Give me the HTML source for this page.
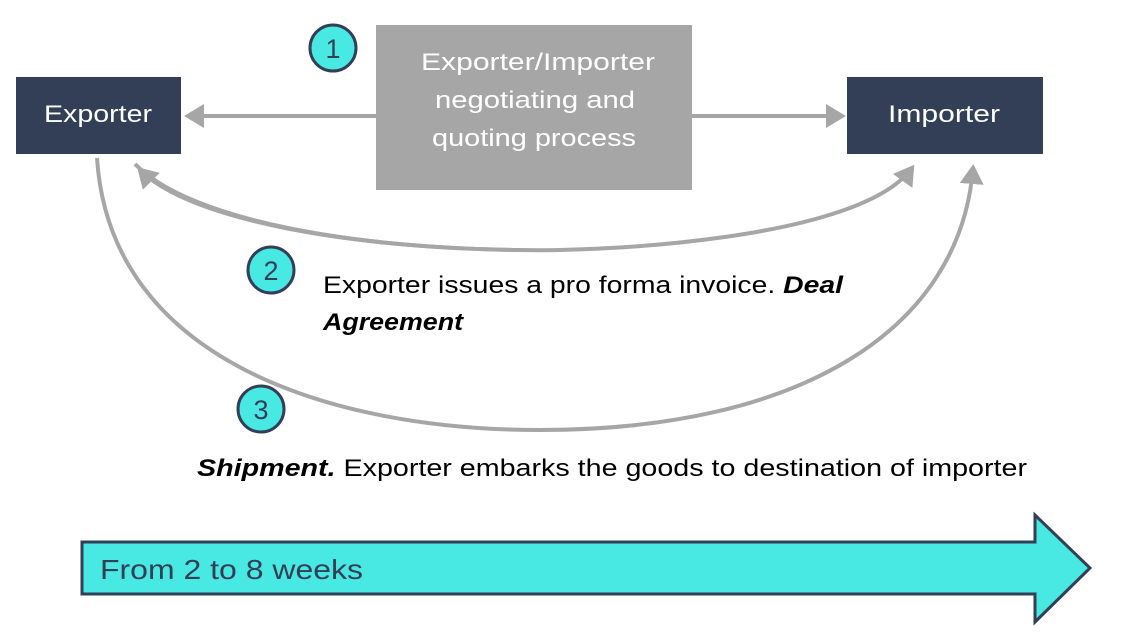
<!DOCTYPE html>
<html><head><meta charset="utf-8"><style>
html,body{margin:0;padding:0;background:#fff;}
svg{display:block;}
text{font-family:"Liberation Sans",sans-serif;}
</style></head><body>
<svg width="1128" height="638" viewBox="0 0 1128 638" xmlns="http://www.w3.org/2000/svg">
<defs>
<marker id="ah" markerWidth="6" markerHeight="6" refX="4" refY="3" orient="auto" markerUnits="strokeWidth">
<path d="M0,0 L5,3 L0,6 z" fill="#a6a6a6"/>
</marker>
</defs>
<rect x="16" y="77" width="165" height="77" fill="#323f56"/>
<text x="44" y="122" fill="#fff" font-size="24" textLength="108" lengthAdjust="spacingAndGlyphs">Exporter</text>
<rect x="847" y="77" width="196" height="77" fill="#323f56"/>
<text x="888" y="122" fill="#fff" font-size="24" textLength="112" lengthAdjust="spacingAndGlyphs">Importer</text>
<rect x="376" y="25" width="316" height="165" fill="#a6a6a6"/>
<text fill="#fff" font-size="24">
<tspan x="421" y="70" textLength="234" lengthAdjust="spacingAndGlyphs">Exporter/Importer</tspan>
<tspan x="435" y="108" textLength="200" lengthAdjust="spacingAndGlyphs">negotiating and</tspan>
<tspan x="432" y="146" textLength="204" lengthAdjust="spacingAndGlyphs">quoting process</tspan>
</text>
<line x1="376" y1="116" x2="188" y2="116" stroke="#a6a6a6" stroke-width="4" marker-end="url(#ah)"/>
<line x1="692" y1="116" x2="842" y2="116" stroke="#a6a6a6" stroke-width="4" marker-end="url(#ah)"/>
<path d="M135,164 C190,220 350,248 520,250 C600,252 860,240 912,168" fill="none" stroke="#a6a6a6" stroke-width="4" marker-end="url(#ah)"/>
<path d="M912,168 C790,240 200,260 140,170" fill="none" stroke="none"/>
<path d="M520,250 C350,248 190,220 140,170" fill="none" stroke="#a6a6a6" stroke-width="4" marker-end="url(#ah)"/>
<path d="M97,158 C110,360 330,430 540,430 C800,430 960,330 973,168" fill="none" stroke="#a6a6a6" stroke-width="4" marker-end="url(#ah)"/>
<g stroke="#323f56" stroke-width="3" fill="#48e8e3">
<circle cx="333" cy="48" r="23"/>
<circle cx="271" cy="270" r="23"/>
<circle cx="261" cy="409" r="23"/>
</g>
<g fill="#323f56" font-size="27" text-anchor="middle">
<text x="333" y="58">1</text>
<text x="271" y="280">2</text>
<text x="261" y="419">3</text>
</g>
<text x="323" y="293" font-size="24" fill="#000" textLength="520" lengthAdjust="spacingAndGlyphs">Exporter issues a pro forma invoice. <tspan font-weight="bold" font-style="italic">Deal</tspan></text>
<text x="323" y="330" font-size="24" fill="#000" font-weight="bold" font-style="italic" textLength="140" lengthAdjust="spacingAndGlyphs">Agreement</text>
<text x="197" y="476" font-size="24" fill="#000" textLength="830" lengthAdjust="spacingAndGlyphs"><tspan font-weight="bold" font-style="italic">Shipment.</tspan> Exporter embarks the goods to destination of importer</text>
<polygon points="82,542 1035,542 1035,515 1090,568 1035,622 1035,594 82,594" fill="#48e8e3" stroke="#323f56" stroke-width="3"/>
<text x="100" y="579" font-size="28" fill="#323f56" textLength="263" lengthAdjust="spacingAndGlyphs">From 2 to 8 weeks</text>
</svg>
</body></html>
